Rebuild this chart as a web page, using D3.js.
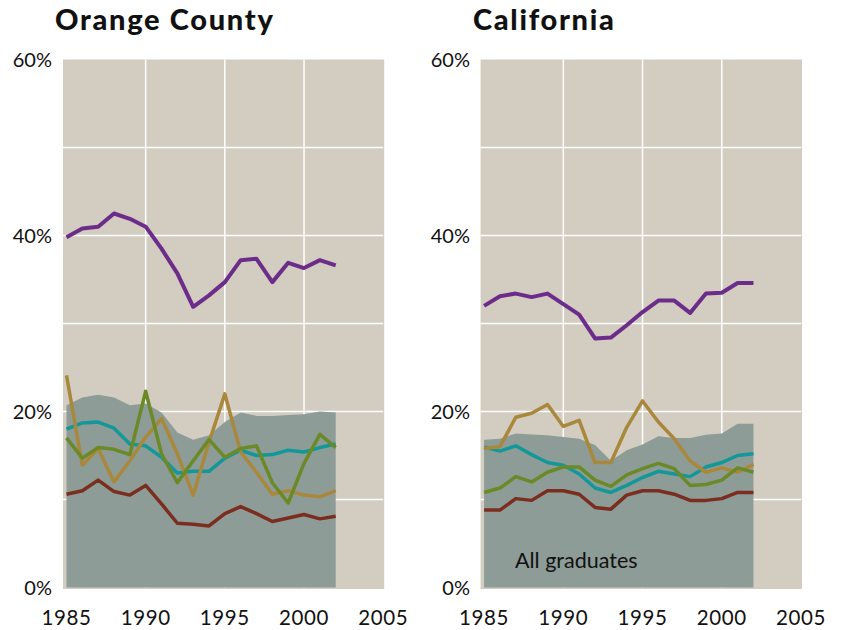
<!DOCTYPE html>
<html>
<head>
<meta charset="utf-8">
<script src="https://cdn.jsdelivr.net/npm/d3@7"></script>
<style>
  body { margin: 0; background: #fff; }
  svg { display: block; }
  text { font-family: Lato, "Open Sans", sans-serif; fill: #111; }
</style>
</head>
<body>
<svg width="842" height="630"></svg>
<script>
const years = [1985, 1986, 1987, 1988, 1989, 1990, 1991, 1992, 1993, 1994,
  1995, 1996, 1997, 1998, 1999, 2000, 2001, 2002];
const xTicks = [1985, 1990, 1995, 2000, 2005];
const yTicks = [0, 20, 40, 60];
const yGrid = [10, 20, 30, 40, 50];

// Orange County
const ocAll = [20.7, 21.6, 21.9, 21.6, 20.7, 20.9, 19.9, 17.6, 16.8, 17.3, 18.8, 19.9, 19.5, 19.5, 19.6, 19.7, 20.0, 19.9];
const ocPurple = [39.8, 40.8, 41.0, 42.5, 41.9, 41.0, 38.5, 35.7, 31.9, 33.2, 34.7, 37.2, 37.35, 34.7, 36.9, 36.3, 37.2, 36.6];
const ocGold = [24.1, 13.9, 15.8, 12.0, 14.4, 17.1, 19.2, 15.2, 10.5, 16.5, 22.0, 15.4, 13.1, 10.6, 11.0, 10.5, 10.3, 11.0];
const ocOlive = [17.0, 14.7, 15.9, 15.7, 15.1, 22.3, 15.2, 11.9, 14.4, 16.8, 14.8, 15.8, 16.1, 11.9, 9.6, 14.1, 17.4, 15.9];
const ocTeal = [18.0, 18.7, 18.8, 18.1, 16.3, 16.1, 14.8, 13.0, 13.2, 13.2, 14.7, 15.6, 15.0, 15.1, 15.6, 15.4, 15.9, 16.3];
const ocBrown = [10.6, 11.0, 12.2, 10.9, 10.5, 11.6, 9.5, 7.3, 7.2, 7.0, 8.4, 9.2, 8.4, 7.5, 7.9, 8.3, 7.8, 8.1];

// California
const caAll = [16.8, 16.9, 17.5, 17.4, 17.3, 17.1, 16.9, 16.2, 14.4, 15.6, 16.25, 17.2, 17.0, 17.0, 17.35, 17.5, 18.6, 18.6];
const caPurple = [32.0, 33.1, 33.4, 33.0, 33.4, 32.2, 31.0, 28.3, 28.4, 29.8, 31.3, 32.6, 32.6, 31.2, 33.4, 33.5, 34.6, 34.6];
const caGold = [15.8, 16.0, 19.35, 19.8, 20.8, 18.3, 19.0, 14.2, 14.2, 18.2, 21.2, 18.8, 16.9, 14.4, 13.1, 13.6, 13.1, 14.0];
const caOlive = [10.8, 11.3, 12.6, 12.0, 13.1, 13.7, 13.7, 12.2, 11.5, 12.8, 13.5, 14.1, 13.5, 11.6, 11.7, 12.2, 13.6, 13.1];
const caTeal = [15.95, 15.5, 16.1, 15.1, 14.2, 13.9, 12.9, 11.3, 10.8, 11.6, 12.5, 13.2, 12.9, 12.6, 13.7, 14.2, 15.0, 15.2];
const caBrown = [8.8, 8.8, 10.1, 9.9, 11.0, 11.0, 10.6, 9.1, 8.9, 10.5, 11.0, 11.0, 10.6, 9.9, 9.9, 10.1, 10.8, 10.8];

const colors = {
  bg: '#d3ccc1', area: '#8d9c97', purple: '#6c2c8a', gold: '#a9883b',
  olive: '#6b8a27', teal: '#13989a', brown: '#7b2e1f'
};

const svg = d3.select('svg');

const drawPanel = (p) => {
  const x = d3.scaleLinear().domain([1985, 2005]).range([p.x0, p.x1]);
  const y = d3.scaleLinear().domain([0, 60]).range([587.5, 59.5]);
  const g = svg.append('g');

  g.append('rect')
    .attr('x', x(1985) - 3.5)
    .attr('y', y(60))
    .attr('width', x(2005) - x(1985) + 4.5)
    .attr('height', y(0) - y(60) + 1.5)
    .attr('fill', colors.bg);

  g.selectAll('.hgrid')
    .data(yGrid)
    .enter().append('line')
    .attr('x1', x(1985) - 3.5).attr('x2', x(2005))
    .attr('y1', d => y(d)).attr('y2', d => y(d))
    .attr('stroke', '#fff').attr('stroke-width', 1.5);

  g.selectAll('.vgrid')
    .data([1990, 1995, 2000])
    .enter().append('line')
    .attr('x1', d => x(d)).attr('x2', d => x(d))
    .attr('y1', y(60)).attr('y2', y(0))
    .attr('stroke', '#fff').attr('stroke-width', 1.5);

  const area = d3.area()
    .x((d, i) => x(years[i]))
    .y0(y(0))
    .y1(d => y(d));

  g.append('path')
    .datum(p.all)
    .attr('d', area)
    .attr('fill', colors.area);

  const line = d3.line()
    .x((d, i) => x(years[i]))
    .y(d => y(d));

  p.series.forEach(s => {
    g.append('path')
      .datum(s.values)
      .attr('d', line)
      .attr('fill', 'none')
      .attr('stroke', s.color)
      .attr('stroke-width', s.width)
      .attr('stroke-linejoin', 'round');
  });

  g.selectAll('.ylab')
    .data(yTicks)
    .enter().append('text')
    .attr('x', p.yLabelX)
    .attr('y', d => y(d))
    .attr('dy', '0.35em')
    .attr('text-anchor', 'end')
    .attr('font-size', 20)
    .text(d => d + '%');

  g.selectAll('.xlab')
    .data(xTicks)
    .enter().append('text')
    .attr('x', d => x(d))
    .attr('y', 625)
    .attr('text-anchor', 'middle')
    .attr('font-size', 20.5)
    .attr('letter-spacing', 0.6)
    .text(d => d);

  g.append('text')
    .attr('x', p.titleX)
    .attr('y', 30)
    .attr('font-size', 29)
    .attr('font-weight', 900)
    .attr('letter-spacing', 1.7)
    .text(p.title);

  if (p.label) {
    g.append('text')
      .attr('x', p.label.x)
      .attr('y', 568)
      .attr('font-size', 21.5)
      .text(p.label.text);
  }
};

const seriesFor = (brown, teal, gold, olive, purple) => [
  { values: brown, color: colors.brown, width: 3.5 },
  { values: teal, color: colors.teal, width: 3.5 },
  { values: gold, color: colors.gold, width: 3.5 },
  { values: olive, color: colors.olive, width: 3.5 },
  { values: purple, color: colors.purple, width: 4 }
];

drawPanel({
  title: 'Orange County', titleX: 55, x0: 66.5, x1: 383.2, yLabelX: 52,
  all: ocAll, series: seriesFor(ocBrown, ocTeal, ocGold, ocOlive, ocPurple)
});

drawPanel({
  title: 'California', titleX: 473, x0: 484.1, x1: 801, yLabelX: 470,
  all: caAll, series: seriesFor(caBrown, caTeal, caGold, caOlive, caPurple),
  label: { x: 515, text: 'All graduates' }
});
</script>
</body>
</html>
